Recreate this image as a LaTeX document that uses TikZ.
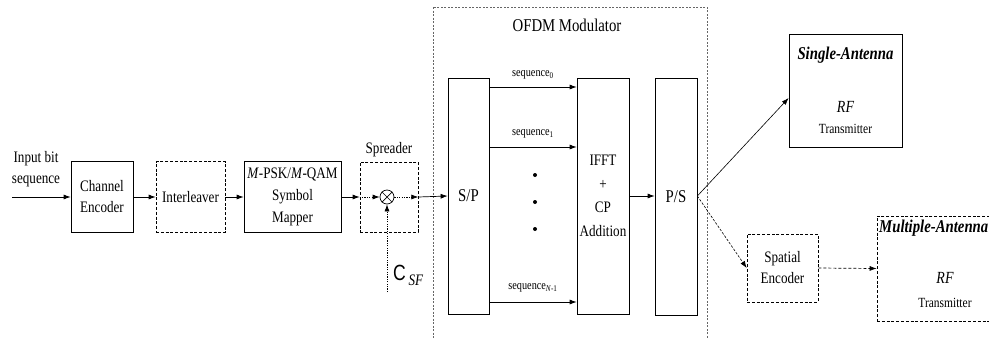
\documentclass[tikz,border=0pt]{standalone}
\usepackage{fontspec}
\setmainfont{Liberation Serif}[FakeStretch=0.82]
\setsansfont{Liberation Sans}[FakeStretch=0.8]
\usetikzlibrary{arrows.meta,calc}
\begin{document}
\begin{tikzpicture}[x=1pt,y=-1pt,
  base/.style={font=\fontsize{16}{21}\selectfont, align=center, inner sep=0pt},
  blk/.style={base, draw, line width=0.7pt},
  dblk/.style={blk, dash pattern=on 3pt off 1.8pt},
  arr/.style={line width=0.7pt, -{Latex[length=7pt,width=5pt]}},
  darr/.style={arr, dash pattern=on 3pt off 2pt},
  dotarr/.style={arr, dash pattern=on 1.2pt off 1.2pt},
  seqlab/.style={base, font=\fontsize{12.5}{14}\selectfont},
  small/.style={base, font=\fontsize{14}{16}\selectfont},
  head/.style={base, font=\fontsize{18}{20}\selectfont\bfseries\itshape},
  rf/.style={base, font=\fontsize{17}{19}\selectfont\itshape}
]
\useasboundingbox (0,0) rectangle (989,338);
\clip (0,0) rectangle (989,338);

% input
\coordinate (in) at (12,197);
\node[base] (inlab) at (36,169) {Input bit\\sequence};
\node[blk, minimum width=62, minimum height=71] (ce) at (102,197) {Channel\\Encoder};
\node[dblk, minimum width=69, minimum height=71] (il) at (190.5,197) {Interleaver};
\node[blk, minimum width=97, minimum height=71, font=\fontsize{16}{22}\selectfont] (sm) at (292.5,197) {\textit{M}-PSK/\textit{M}-QAM\\Symbol\\Mapper};

% spreader
\node[dblk, minimum width=58, minimum height=70] (spr) at (389,197) {};
\node[base] (sprlab) at (389,150) {Spreader};
\node[draw, circle, line width=0.7pt, minimum size=14, inner sep=0pt] (mx) at (387,197) {};
\draw[line width=0.7pt] (mx.north west) -- (mx.south east) (mx.north east) -- (mx.south west);
\coordinate (cs) at (387,292);
\node[base, anchor=west] (csf) at (393,275) {{\sffamily\fontsize{22}{22}\selectfont C}\,{\itshape\raisebox{-5pt}{SF}}};

% OFDM modulator
\draw[line width=0.6pt, gray!80!black, dash pattern=on 2pt off 1.5pt] (433,7) rectangle (707,345);
\node[base, font=\fontsize{18}{20}\selectfont] (ofdmlab) at (567,25) {OFDM Modulator};
\node[blk, minimum width=41, minimum height=236, font=\fontsize{18}{20}\selectfont] (stp) at (468.5,196) {S/P};
\node[blk, minimum width=52, minimum height=236, font=\fontsize{16}{23.5}\selectfont] (ifft) at (603,196) {IFFT\\+\\CP\\Addition};
\node[blk, minimum width=42, minimum height=237, font=\fontsize{18}{20}\selectfont] (pts) at (676,196.5) {P/S};

\node[seqlab] (s0) at (533,75) {sequence\textsubscript{0}};
\node[seqlab] (s1) at (533,134) {sequence\textsubscript{1}};
\node[seqlab] (sn) at (533,288) {sequence\textsubscript{\textit{N}-1}};
\fill (535,175) circle (2) (535,202) circle (2) (535,229) circle (2);

% antennas
\node[blk, minimum width=113, minimum height=113] (single) at (845.5,90.5) {};
\node[head] (singlelab) at (845.5,55) {Single-Antenna};
\node[rf] (rf1) at (845.5,107) {RF};
\node[small] (tx1) at (845.5,129) {Transmitter};

\node[dblk, minimum width=71, minimum height=68] (spat) at (782.5,268) {Spatial\\Encoder};
\node[dblk, minimum width=136, minimum height=105] (multi) at (945,268.5) {};
\node[head, anchor=west] (multilab) at (879,228) {Multiple-Antenna};
\node[rf] (rf2) at (945,278) {RF};
\node[small] (tx2) at (945,303) {Transmitter};

% connectors
\draw[arr] (in) -- (ce.west);
\draw[arr] (ce.east) -- (il.west);
\draw[arr] (il.east) -- (sm.west);
\draw[arr] (sm.east) -- (spr.west);
\draw[dotarr] (spr.west) -- (mx.west);
\draw[dotarr] (mx.east) -- (spr.east);
\draw[dotarr] (cs) -- (mx.south);
\draw[arr] (spr.east) -- (stp.west);
\draw[arr] (stp.east |- 0,87) -- (ifft.west |- 0,87);
\draw[arr] (stp.east |- 0,147) -- (ifft.west |- 0,147);
\draw[arr] (stp.east |- 0,302) -- (ifft.west |- 0,302);
\draw[arr] (ifft.east) -- (pts.west |- ifft.east);
\draw[line width=0.6pt, -{Latex[length=7pt,width=5pt]}] (pts.east |- 0,196) -- (single.west |- 0,98);
\draw[line width=0.6pt, dash pattern=on 2.5pt off 1.5pt, -{Latex[length=7pt,width=5pt]}] (pts.east |- 0,196) -- (spat.west);
\draw[darr] (spat.east) -- (multi.west);
\end{tikzpicture}
\end{document}
